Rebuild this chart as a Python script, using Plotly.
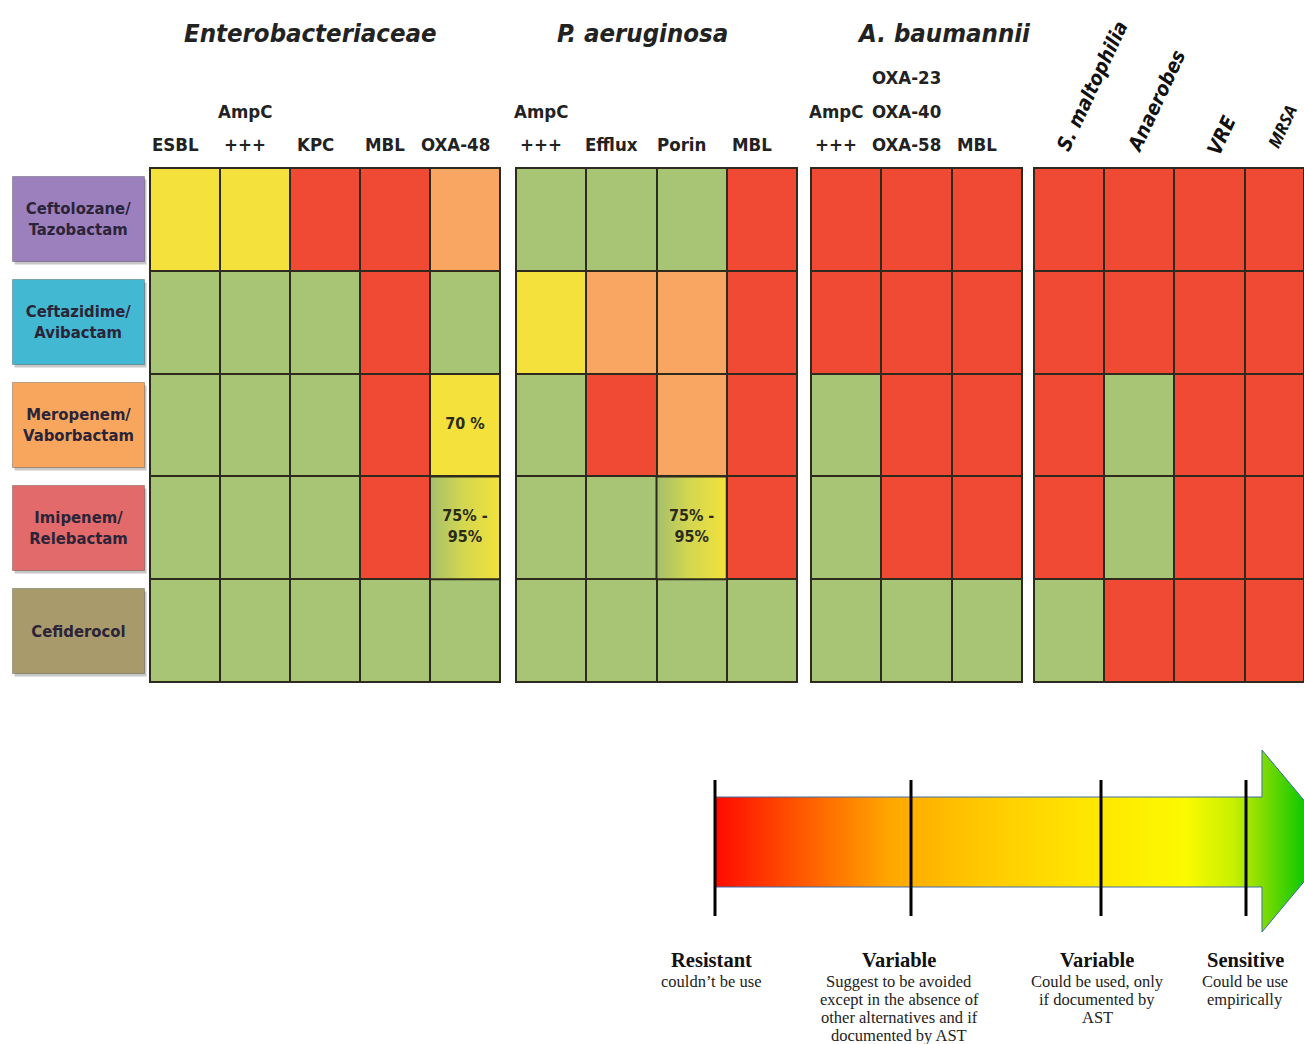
import plotly.graph_objects as go

W, H = 1304, 1044

# ---------------- data ----------------
drugs = ["Ceftolozane/<br>Tazobactam", "Ceftazidime/<br>Avibactam", "Meropenem/<br>Vaborbactam",
         "Imipenem/<br>Relebactam", "Cefiderocol"]
drug_colors = ["#9C80BE", "#42B8D2", "#F8A65E", "#E26A6A", "#A99A6C"]

group_titles = ["Enterobacteriaceae", "P. aeruginosa", "A. baumannii", ""]

# header lines, listed bottom line first
ent_headers = [["ESBL"], ["+++", "AmpC"], ["KPC"], ["MBL"], ["OXA-48"]]
pae_headers = [["+++", "AmpC"], ["Efflux"], ["Porin"], ["MBL"]]
aba_headers = [["+++", "AmpC"], ["OXA-58", "OXA-40", "OXA-23"], ["MBL"]]
oth_headers = ["S. maltophilia", "Anaerobes", "VRE", "MRSA"]

# R = resistant, O = variable (avoid), Y = variable (AST), G = sensitive, GY = sensitive/variable blend
ent_vals = [["Y", "Y", "R", "R", "O"],
            ["G", "G", "G", "R", "G"],
            ["G", "G", "G", "R", "Y"],
            ["G", "G", "G", "R", "GY"],
            ["G", "G", "G", "G", "G"]]
pae_vals = [["G", "G", "G", "R"],
            ["Y", "O", "O", "R"],
            ["G", "R", "O", "R"],
            ["G", "G", "GY", "R"],
            ["G", "G", "G", "G"]]
aba_vals = [["R", "R", "R"],
            ["R", "R", "R"],
            ["G", "R", "R"],
            ["G", "R", "R"],
            ["G", "G", "G"]]
oth_vals = [["R", "R", "R", "R"],
            ["R", "R", "R", "R"],
            ["R", "G", "R", "R"],
            ["R", "G", "R", "R"],
            ["G", "R", "R", "R"]]

# (row, col, text)
ent_notes = [(2, 4, "70 %"), (3, 4, "75% -<br>95%")]
pae_notes = [(3, 2, "75% -<br>95%")]
aba_notes = []
oth_notes = []

legend_titles = ["Resistant", "Variable", "Variable", "Sensitive"]
legend_texts = [["couldn\u2019t be use"],
                ["Suggest to be avoided", "except in the absence of",
                 "other alternatives and if", "documented by AST"],
                ["Could be used, only", "if documented by", "AST"],
                ["Could be use", "empirically"]]

# ---------------- styles ----------------
level_code = {"R": 0, "O": 1, "Y": 2, "G": 3, "GY": 3}
RED, ORANGE, YELLOW, GREEN = "#F04A34", "#F8A662", "#F4E13C", "#A8C576"
cscale = [[0, RED], [1 / 3, ORANGE], [2 / 3, YELLOW], [1, GREEN]]
GRID = "#2E2A1E"
COND = "DejaVu Sans Condensed, Liberation Sans Narrow, Arial Narrow, sans-serif"
SERIF = "Liberation Serif, DejaVu Serif, serif"

# pixel extents of the four blocks (screen pixels)
blocks_px = [(150, 500), (516, 797), (811, 1022), (1034, 1304)]
title_px = [310, 642, 944]
col_w = 70.2
heat_top, heat_bot = 168, 682

def px_x(p):
    return p / W

def px_y(p):
    return 1 - p / H

fig = go.Figure()

groups = [ent_vals, pae_vals, aba_vals, oth_vals]
notes = [ent_notes, pae_notes, aba_notes, oth_notes]
shapes = []
annotations = []

for gi, (vals, nts) in enumerate(zip(groups, notes)):
    ax = "" if gi == 0 else str(gi + 1)
    xa, ya = "x" + ax, "y" + ax
    ncol = len(vals[0])
    z = [[level_code[v] for v in row] for row in vals]
    fig.add_trace(go.Heatmap(
        z=z, x=list(range(ncol)), y=list(range(len(vals))),
        colorscale=cscale, zmin=0, zmax=3, showscale=False,
        xgap=2, ygap=2, hoverinfo="skip", xaxis=xa, yaxis=ya))
    # blended cells
    for r, row in enumerate(vals):
        for c, v in enumerate(row):
            if v == "GY":
                fig.add_trace(go.Scatter(
                    x=[c - 0.5, c + 0.5, c + 0.5, c - 0.5, c - 0.5],
                    y=[r - 0.5, r - 0.5, r + 0.5, r + 0.5, r - 0.5],
                    mode="lines", fill="toself",
                    line=dict(color=GRID, width=2),
                    fillgradient=dict(type="horizontal",
                                      colorscale=[[0, "#A4BF6C"], [0.45, "#D2D650"], [1, "#F2E23C"]],
                                      start=c - 0.5, stop=c + 0.5),
                    hoverinfo="skip", xaxis=xa, yaxis=ya))
    if nts:
        fig.add_trace(go.Scatter(
            x=[n[1] for n in nts], y=[n[0] for n in nts],
            text=["<b>" + n[2] + "</b>" for n in nts], mode="text",
            textfont=dict(family=COND, size=16, color="#2A2A1A"),
            hoverinfo="skip", xaxis=xa, yaxis=ya))

    x0p, x1p = blocks_px[gi]
    upper = -0.5 + (x1p - x0p) / col_w if gi == 3 else ncol - 0.5
    dom = [px_x(x0p), min(1.0, px_x(x1p))]
    fig.layout["xaxis" + ax] = dict(domain=dom, range=[-0.5, upper], visible=False,
                                    anchor=ya, fixedrange=True)
    fig.layout["yaxis" + ax] = dict(domain=[px_y(heat_bot), px_y(heat_top)], range=[4.5, -0.5],
                                    visible=False, anchor=xa, fixedrange=True)
    shapes.append(dict(type="rect", xref=xa + " domain", yref=ya + " domain",
                       x0=0, x1=1, y0=0, y1=1, fillcolor=GRID, line=dict(width=0), layer="below"))
    shapes.append(dict(type="rect", xref=xa + " domain", yref=ya + " domain",
                       x0=0, x1=1, y0=0, y1=1, line=dict(color=GRID, width=2), layer="above"))

    # group title
    if group_titles[gi]:
        annotations.append(dict(
            text="<b><i>" + group_titles[gi] + "</i></b>", xref="paper", yref="paper",
            x=px_x(title_px[gi]), y=px_y(33), showarrow=False,
            font=dict(family=COND, size=25.5, color="#222222"), xanchor="center", yanchor="middle"))

# column headers
line_y = [145, 111, 78]
for gi, hdrs in enumerate([ent_headers, pae_headers, aba_headers]):
    ax = "" if gi == 0 else str(gi + 1)
    for c, lines in enumerate(hdrs):
        for li, t in enumerate(lines):
            annotations.append(dict(
                text="<b>" + t + "</b>", xref="x" + ax, yref="paper", x=c, y=px_y(line_y[li]),
                xshift=-10, showarrow=False, xanchor="center", yanchor="middle",
                font=dict(family=COND, size=18.5, color="#222222")))

rot_pos = [(23, 86), (17, 101), (12, 135), (2, 126)]
for c, t in enumerate(oth_headers):
    annotations.append(dict(
        text="<b><i>" + t + "</i></b>", xref="x4", yref="paper", x=c,
        y=px_y(rot_pos[c][1]), xshift=rot_pos[c][0], textangle=-65, showarrow=False,
        xanchor="center", yanchor="middle",
        font=dict(family=COND if t != "MRSA" else "Open Sans, sans-serif",
                  size=20 if t != "MRSA" else 17, color="#111111")))

# row labels (boxes)
for r, (d, col) in enumerate(zip(drugs, drug_colors)):
    annotations.append(dict(
        text=" ", xref="paper", yref="y", x=px_x(78), y=r, xshift=2, yshift=-3,
        xanchor="center", yanchor="middle",
        width=131, height=84, bgcolor="rgba(0,0,0,0.22)", showarrow=False, borderpad=0))
    annotations.append(dict(
        text="<b>" + d + "</b>", xref="paper", yref="y", x=px_x(78), y=r,
        xanchor="center", yanchor="middle",
        width=131, height=84, bgcolor=col, bordercolor="rgba(0,0,0,0.25)", borderwidth=1,
        borderpad=0, showarrow=False, align="center", valign="middle",
        font=dict(family=COND, size=16.5, color="#2B2438")))

# ---------------- legend arrow ----------------
fig.layout["xaxis5"] = dict(domain=[0, 1], range=[0, W], visible=False, anchor="y5", fixedrange=True)
fig.layout["yaxis5"] = dict(domain=[0, px_y(710)], range=[H, 710], visible=False, anchor="x5",
                            fixedrange=True)

fig.add_trace(go.Scatter(
    x=[715, 1262, 1262, 1338, 1262, 1262, 715, 715],
    y=[797, 797, 750, 841, 932, 887, 887, 797],
    mode="lines", fill="toself", line=dict(color="#3F6EA8", width=1),
    fillgradient=dict(type="horizontal", start=715, stop=1304,
                      colorscale=[[0, "#FF0A00"], [0.15, "#FF5A00"], [0.3, "#FFA800"],
                                  [0.45, "#FFC800"], [0.62, "#FFE400"], [0.8, "#FAFA00"],
                                  [0.88, "#C8F000"], [0.93, "#80DC00"], [1, "#10C800"]]),
    hoverinfo="skip", xaxis="x5", yaxis="y5"))

tick_x = [715, 911, 1101, 1246]
tx, ty = [], []
for t in tick_x:
    tx += [t, t, None]
    ty += [780, 916, None]
fig.add_trace(go.Scatter(x=tx, y=ty, mode="lines", line=dict(color="black", width=3),
                         hoverinfo="skip", xaxis="x5", yaxis="y5"))

legend_x = [711, 899, 1097, 1245]
for i in range(4):
    annotations.append(dict(
        text="<b>" + legend_titles[i] + "</b>", xref="paper", yref="paper",
        x=px_x(legend_x[i]), y=px_y(960), showarrow=False, xanchor="center", yanchor="middle",
        font=dict(family=SERIF, size=20.5, color="#111111")))
    for li, line in enumerate(legend_texts[i]):
        annotations.append(dict(
            text=line, xref="paper", yref="paper",
            x=px_x(legend_x[i]), y=px_y(981 + li * 18.2), showarrow=False,
            xanchor="center", yanchor="middle",
            font=dict(family=SERIF, size=16.5, color="#222222")))

fig.update_layout(width=W, height=H, margin=dict(l=0, r=0, t=0, b=0),
                  paper_bgcolor="white", plot_bgcolor="rgba(0,0,0,0)", showlegend=False,
                  shapes=shapes, annotations=annotations)

fig.write_html(
    "out.html",
    config={"displayModeBar": False},
    post_script="document.body.style.margin='0';document.body.style.overflow='hidden';"
                "document.documentElement.style.overflow='hidden';")
